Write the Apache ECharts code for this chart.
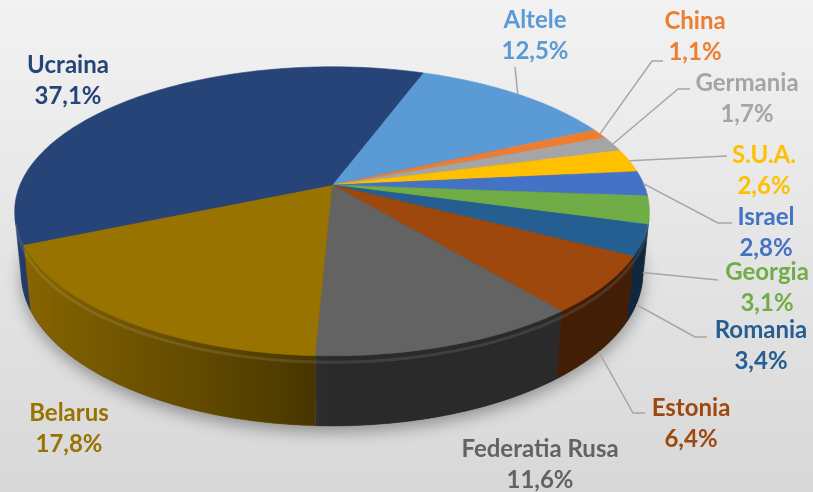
<!DOCTYPE html>
<html>
<head>
  <meta charset="utf-8" />
  <title>Pie 3D</title>
  <script src="https://cdn.jsdelivr.net/npm/echarts@6/dist/echarts.min.js"></script>
</head>
<body style="margin: 0; overflow: hidden">
  <div id="main" style="width: 813px; height: 492px"></div>
  <script>
    // data, clockwise starting after Ucraina
    var names = ["Altele", "China", "Germania", "S.U.A.", "Israel", "Georgia", "Romania", "Estonia", "Federatia Rusa", "Belarus", "Ucraina"];
    var values = [12.5, 1.1, 1.7, 2.6, 2.8, 3.1, 3.4, 6.4, 11.6, 17.8, 37.1];
    var colors = ["#5B9BD5", "#ED7D31", "#A5A5A5", "#FFC000", "#4472C4", "#70AD47", "#255E91", "#9E480E", "#636363", "#997300", "#264478"];

    // label layout: centre of the name line, and leader line bends (null = no leader)
    var labelPos = [[535, 20], [695, 21], [747, 83], [764, 155], [766, 217], [767, 272], [761, 330], [691, 408], [540, 449], [69, 413], [68, 65]];
    var leaders = [
      [[515, 67]],
      [[652, 61], [663, 61]],
      [[678, 89], [690, 89]],
      [[727, 156]],
      [[718, 223], [732, 223]],
      [[718, 280]],
      [[695, 337], [707, 337]],
      [[633, 413], [645, 413]],
      null, null, null
    ];

    // 3d view
    var startAngle = 20, tilt = 26.6 * Math.PI / 180, camD = 4.91, thick = 0.223;
    var sinT = Math.sin(tilt), cosT = Math.cos(tilt);
    var visFrom = Math.acos(-1 / (camD * cosT)) * 180 / Math.PI, visTo = 360 - visFrom;

    var total = values.reduce((a, b) => a + b, 0);
    var a1 = [], a2 = [], acc = startAngle;
    values.forEach(v => { a1.push(acc); acc += v / total * 360; a2.push(acc); });

    function project(a, h, g) {
      var r = a * Math.PI / 180;
      var x = Math.sin(r), z = -Math.cos(r);
      var v = z * sinT - h * cosT, w = z * cosT + h * sinT;
      var s = camD / (camD - w);
      return [g.cx + g.k * x * s, g.cy + g.k * v * s];
    }
    function arc(from, to, h, g) {
      var n = Math.max(2, Math.ceil(Math.abs(to - from))), pts = [];
      for (var j = 0; j <= n; j++) pts.push(project(from + (to - from) * j / n, h, g));
      return pts;
    }
    function shade(hex, f) {
      var c = parseInt(hex.slice(1), 16);
      var r = Math.round(((c >> 16) & 255) * f), gg = Math.round(((c >> 8) & 255) * f), b = Math.round((c & 255) * f);
      return "rgb(" + Math.min(255, r) + "," + Math.min(255, gg) + "," + Math.min(255, b) + ")";
    }
    function wallShade(a) {
      var n = -Math.sin(a * Math.PI / 180);
      return 0.42 + 0.5 * Math.pow(Math.max(0, n), 0.8);
    }
    function fmt(v) { return v.toFixed(1).replace(".", ",") + "%"; }

    function renderItem(params, api) {
      var i = params.dataIndex;
      var W = api.getWidth(), H = api.getHeight();
      var g = { cx: W * 0.4084, cy: H * 0.376, k: W * 0.3838 };
      var kids = [];
      var col = colors[i];

      if (i === 0) {
        kids.push({
          type: "polygon", z2: 1,
          shape: { points: arc(0, 360, -thick, g) },
          style: { fill: "#3a3a3a", shadowBlur: 16, shadowColor: "rgba(0,0,0,0.35)", shadowOffsetY: 6 }
        });
      }

      // side wall (only the part facing us)
      var lo = Math.max(a1[i], visFrom), hi = Math.min(a2[i], visTo);
      if (hi > lo) {
        var top = arc(lo, hi, 0, g), bot = arc(lo, hi, -thick, g).reverse();
        var pts = top.concat(bot);
        var xs = pts.map(p => p[0]);
        var xmin = Math.min.apply(null, xs), xmax = Math.max.apply(null, xs);
        var stops = [];
        top.forEach((p, j) => {
          var a = lo + (hi - lo) * j / (top.length - 1);
          stops.push({ offset: xmax > xmin ? (p[0] - xmin) / (xmax - xmin) : 0, color: shade(col, wallShade(a)) });
        });
        stops.sort((p, q) => p.offset - q.offset);
        kids.push({
          type: "polygon", z2: 2,
          shape: { points: pts },
          style: { fill: { type: "linear", x: 0, y: 0, x2: 1, y2: 0, colorStops: stops }, stroke: shade(col, wallShade((lo + hi) / 2)), lineWidth: 0.5 }
        });
        kids.push({
          type: "polyline", z2: 4,
          shape: { points: arc(lo, hi, -0.02, g) },
          style: { stroke: "rgba(255,255,255,0.1)", lineWidth: 3, fill: null }
        });
      }

      // top face
      kids.push({
        type: "polygon", z2: 3,
        shape: { points: [project(0, 0, { cx: g.cx, cy: g.cy, k: 0 })].concat(arc(a1[i], a2[i], 0, g)) },
        style: { fill: col, stroke: col, lineWidth: 0.6 }
      });

      // leader line
      if (leaders[i]) {
        var mid = (a1[i] + a2[i]) / 2;
        var front = Math.cos(mid * Math.PI / 180) < 0;
        var p0 = project(mid, front ? -thick : 0, g);
        kids.push({
          type: "polyline", z2: 5,
          shape: { points: [p0].concat(leaders[i]) },
          style: { stroke: "#A6A6A6", lineWidth: 1.5, fill: null }
        });
      }

      // labels
      var lp = labelPos[i];
      [names[i], fmt(values[i])].forEach((t, j) => {
        kids.push({
          type: "text", z2: 6,
          x: lp[0], y: lp[1] + j * 31,
          style: { text: t, fill: col, font: "bold 24px Lato", textAlign: "center", textVerticalAlign: "middle", align: "center", verticalAlign: "middle" }
        });
      });

      return { type: "group", children: kids };
    }

    var chart = echarts.init(document.getElementById("main"), null, { renderer: "canvas" });
    var option = {
      animation: false,
      backgroundColor: new echarts.graphic.LinearGradient(0, 0, 0, 1, [
        { offset: 0, color: "#F2F2F2" },
        { offset: 1, color: "#D8D8D8" }
      ]),
      series: [{
        type: "custom",
        coordinateSystem: "none",
        renderItem: renderItem,
        data: values.map((v, i) => ({ name: names[i], value: v }))
      }]
    };
    chart.setOption(option);
  </script>
</body>
</html>
